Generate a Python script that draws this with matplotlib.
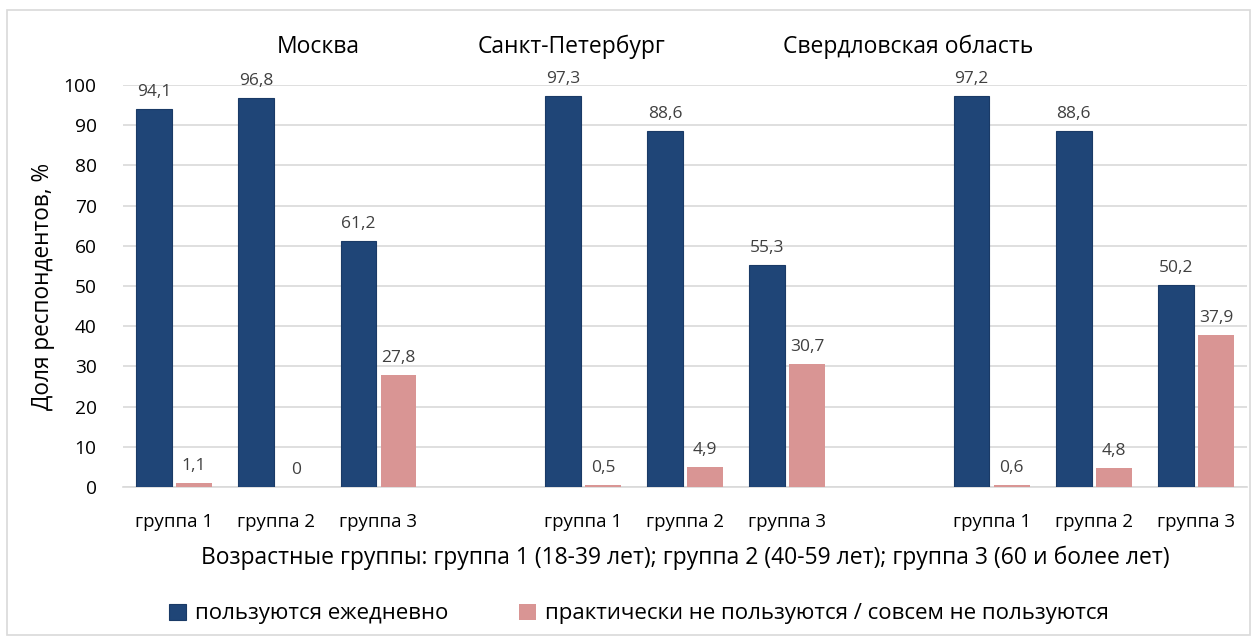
import matplotlib.pyplot as plt
from matplotlib.patches import Rectangle

plt.rcParams['font.family'] = ['Open Sans', 'DejaVu Sans']

# данные
regions = ['Москва', 'Санкт-Петербург', 'Свердловская область']
groups = ['группа 1', 'группа 2', 'группа 3']
daily = [94.1, 96.8, 61.2, 97.3, 88.6, 55.3, 97.2, 88.6, 50.2]
never = [1.1, 0.0, 27.8, 0.5, 4.9, 30.7, 0.6, 4.8, 37.9]
series_names = ['пользуются ежедневно',
                'практически не пользуются / совсем не пользуются']

c_dark = '#1F4577'
c_pink = '#D99594'
txt = '#404040'

fig = plt.figure(figsize=(12.58, 6.43), dpi=100)
fig.patches.append(Rectangle((7 / 1258, 8 / 643), 1243 / 1258, 625 / 643,
                             transform=fig.transFigure, fill=False,
                             edgecolor='#D9D9D9', linewidth=1.2))
ax = fig.add_axes([0.0978, 0.2426, 0.8935, 0.6252])

# позиции: по три группы на регион, пустой слот между регионами
pos = [i + (i // 3) for i in range(len(daily))]
w = 0.35
off = 0.196
b1 = ax.bar([p - off for p in pos], daily, w, color=c_dark, edgecolor='#1A3A66',
            linewidth=0.8, label=series_names[0], zorder=3)
b2 = ax.bar([p + off for p in pos], never, w, color=c_pink, label=series_names[1],
            zorder=3)

for bars, vals in ((b1, daily), (b2, never)):
    for r, v in zip(bars, vals):
        s = ('%.1f' % v).replace('.', ',') if v != 0 else '0'
        ax.text(r.get_x() + r.get_width() / 2, v + 2.2, s, ha='center', va='bottom',
                fontsize=12.5, color=txt, clip_on=False)

ax.set_xlim(-0.5, 10.5)
ax.set_ylim(0, 100)
ax.set_yticks(range(0, 101, 10))
ax.set_xticks(pos)
ax.set_xticklabels(groups * 3)
ax.tick_params(axis='x', length=0, pad=19, labelsize=13.4, labelcolor='#000000')
ax.tick_params(axis='y', length=0, pad=19, labelsize=13.8, labelcolor='#000000')
ax.grid(axis='y', color='#D9D9D9', linewidth=1.2, zorder=0)
for s in ['top', 'right', 'left']:
    ax.spines[s].set_visible(False)
ax.spines['bottom'].set_color('#D9D9D9')
ax.spines['bottom'].set_linewidth(1.2)

ax.set_ylabel('Доля респондентов, %', fontsize=16.3, labelpad=6)
ax.set_xlabel('Возрастные группы: группа 1 (18-39 лет); группа 2 (40-59 лет); '
              'группа 3 (60 и более лет)', fontsize=16.5, labelpad=10)

# подписи регионов
for name, x in zip(regions, [1.41, 3.89, 7.18]):
    ax.text(x, 109.5, name, ha='center', va='center', fontsize=16.5, clip_on=False)

fig.legend(handles=[b1, b2], labels=series_names, loc='center',
           bbox_to_anchor=(0.5 + 10 / 1258, 29 / 643), ncol=2, frameon=False,
           fontsize=16, handlelength=0.75, handleheight=0.75, handletextpad=0.4,
           columnspacing=3.2)

fig.savefig('out.png', dpi=100)
